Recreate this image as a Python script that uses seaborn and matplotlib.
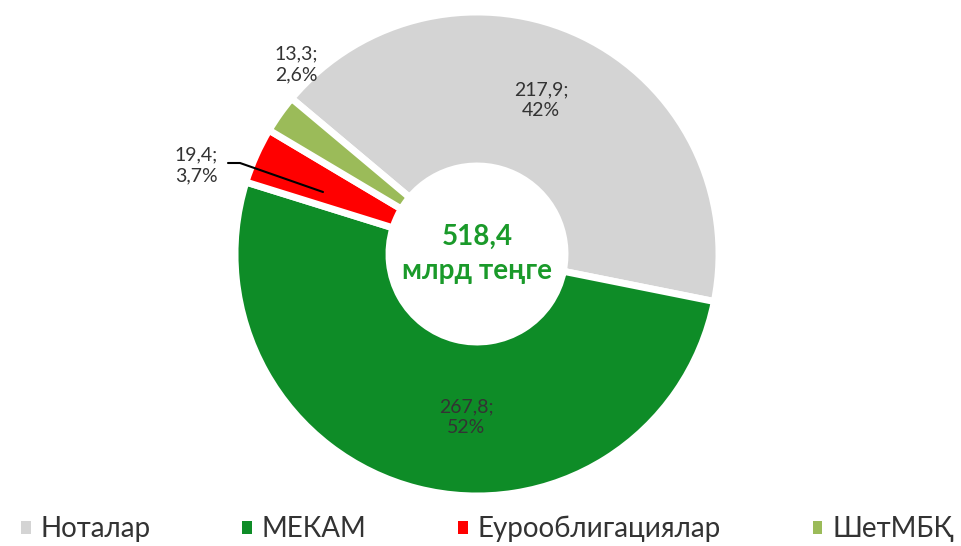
import matplotlib
matplotlib.use("Agg")
import matplotlib.pyplot as plt
import matplotlib.patches as mpatches
import seaborn as sns

# данные
categories = ["Ноталар", "МЕКАМ", "Еурооблигациялар", "ШетМБҚ"]
values = [217.9, 267.8, 19.4, 13.3]
value_labels = ["217,9;\n42%", "267,8;\n52%", "19,4;\n3,7%", "13,3;\n2,6%"]
total_label = "518,4\nмлрд теңге"
colors = ["#d4d4d4", "#0e8c27", "#ff0000", "#9bbb59"]

sns.set_theme(style="white")
plt.rcParams["font.family"] = ["Lato", "DejaVu Sans"]

fig = plt.figure(figsize=(9.62, 5.46), dpi=100)
ax = fig.add_axes([0, 0, 1, 1])

cx, cy, r = 477, 546 - 254, 242
wedges, _ = ax.pie(values, colors=colors, startangle=140, counterclock=False,
                   center=(cx, cy), radius=r, frame=True,
                   wedgeprops=dict(width=r - 88, edgecolor="white", linewidth=5))
ax.set_xlim(0, 962)
ax.set_ylim(0, 546)
ax.set_aspect("equal")
ax.axis("off")

lab_kw = dict(fontsize=14, color="#333333", linespacing=1.3)
ax.text(541, 546 - 100, value_labels[0], ha="center", va="center", **lab_kw)
ax.text(466, 546 - 417, value_labels[1], ha="center", va="center", **lab_kw)
ax.text(196, 546 - 165, value_labels[2], ha="center", va="center", **lab_kw)
ax.text(296, 546 - 64, value_labels[3], ha="center", va="center", **lab_kw)
ax.plot([228, 240, 323], [546 - 163, 546 - 163, 546 - 192], color="black", lw=1.5)

ax.text(cx, cy, total_label, ha="center", va="center", fontsize=20,
        fontweight="bold", color="#1a9a2a", linespacing=1.4)

handles = [mpatches.Patch(facecolor=c, edgecolor="none") for c in colors]
leg = fig.legend(handles, categories, loc="center left", bbox_to_anchor=(0.022, 17 / 546),
                 ncol=4, frameon=False, fontsize=20, handlelength=0.35, handleheight=0.35,
                 handletextpad=0.35, columnspacing=3.3, labelcolor="#333333",
                 borderpad=0, borderaxespad=0)

fig.savefig("out.png", dpi=100)
